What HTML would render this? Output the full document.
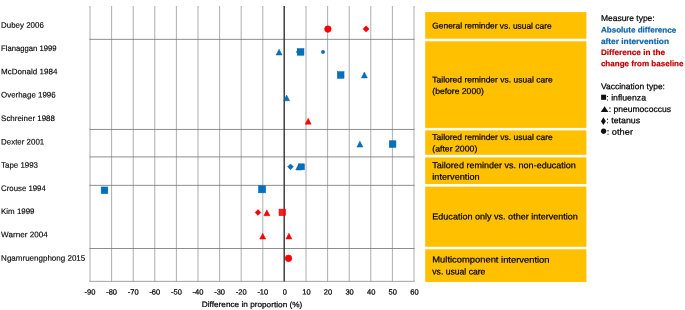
<!DOCTYPE html>
<html lang="en"><head><meta charset="utf-8"><title>Forest plot</title>
<style>
html,body{margin:0;padding:0;background:#fff}
svg{display:block;color:#000}
text{font-family:"Liberation Sans",sans-serif;fill:currentColor;stroke:currentColor;stroke-width:.22px}
.r text{stroke-width:.13px}
.b{font-weight:bold;stroke-width:.2px}
.sym{font-family:"DejaVu Sans","Liberation Sans",sans-serif}
</style></head><body>
<svg width="685" height="310" viewBox="0 0 685 310" fill="#000">
<rect width="685" height="310" fill="#fff"/>
<g stroke="#989898" stroke-width="0.8">
<line x1="90.0" y1="6" x2="90.0" y2="281.6"/>
<line x1="111.6" y1="6" x2="111.6" y2="281.6"/>
<line x1="133.2" y1="6" x2="133.2" y2="281.6"/>
<line x1="154.8" y1="6" x2="154.8" y2="281.6"/>
<line x1="176.4" y1="6" x2="176.4" y2="281.6"/>
<line x1="198.0" y1="6" x2="198.0" y2="281.6"/>
<line x1="219.6" y1="6" x2="219.6" y2="281.6"/>
<line x1="241.2" y1="6" x2="241.2" y2="281.6"/>
<line x1="262.8" y1="6" x2="262.8" y2="281.6"/>
<line x1="306.0" y1="6" x2="306.0" y2="281.6"/>
<line x1="327.6" y1="6" x2="327.6" y2="281.6"/>
<line x1="349.2" y1="6" x2="349.2" y2="281.6"/>
<line x1="370.8" y1="6" x2="370.8" y2="281.6"/>
<line x1="392.4" y1="6" x2="392.4" y2="281.6"/>
<line x1="414.0" y1="6" x2="414.0" y2="281.6"/>
</g>
<line x1="89.3" y1="281.35" x2="414.6" y2="281.35" stroke="#9c9c9c" stroke-width="0.95"/>
<g stroke="#7a7a7a" stroke-width="0.85">
<line x1="89.5" y1="39.35" x2="414.5" y2="39.35"/>
<line x1="89.5" y1="129.45" x2="414.5" y2="129.45"/>
<line x1="89.5" y1="156.9" x2="414.5" y2="156.9"/>
<line x1="89.5" y1="185.35" x2="414.5" y2="185.35"/>
<line x1="89.5" y1="248.5" x2="414.5" y2="248.5"/>
</g>
<line x1="284.2" y1="6" x2="284.2" y2="281.5" stroke="#2c2c2c" stroke-width="1.35"/>
<g stroke-width="0.5" stroke-linejoin="miter">
<circle cx="327.9" cy="29.1" r="3.3" fill="#FF0000" stroke="#E30000"/>
<polygon points="366.1,25.8 369.2,28.9 366.1,32.0 363.0,28.9" fill="#FF0000" stroke="#E30000"/>
<polygon points="279.1,49.2 282.1,55.0 276.1,55.0" fill="#0070C0" stroke="#0563A8"/>
<polygon points="299.0,49.0 301.9,51.9 299.0,54.8 296.1,51.9" fill="#0070C0" stroke="#0563A8"/>
<rect x="297.25" y="48.55" width="6.7" height="6.7" fill="#0070C0" stroke="#0563A8"/>
<circle cx="323.0" cy="51.9" r="1.7" fill="#0070C0" stroke="#0563A8"/>
<rect x="337.35" y="71.65" width="6.7" height="6.7" fill="#0070C0" stroke="#0563A8"/>
<polygon points="364.4,72.0 367.4,77.9 361.4,77.9" fill="#0070C0" stroke="#0563A8"/>
<polygon points="286.6,95.0 289.6,100.8 283.6,100.8" fill="#0070C0" stroke="#0563A8"/>
<polygon points="308.2,118.3 311.2,124.2 305.2,124.2" fill="#FF0000" stroke="#E30000"/>
<polygon points="359.9,141.2 362.9,147.1 356.9,147.1" fill="#0070C0" stroke="#0563A8"/>
<rect x="389.25" y="140.75" width="6.7" height="6.7" fill="#0070C0" stroke="#0563A8"/>
<polygon points="290.5,163.9 293.4,166.8 290.5,169.7 287.6,166.8" fill="#0070C0" stroke="#0563A8"/>
<polygon points="298.7,164.1 301.7,169.9 295.7,169.9" fill="#0070C0" stroke="#0563A8"/>
<rect x="298.45" y="163.80" width="6.0" height="6.0" fill="#0070C0" stroke="#0563A8"/>
<rect x="101.15" y="186.95" width="6.7" height="6.7" fill="#0070C0" stroke="#0563A8"/>
<rect x="258.50" y="185.75" width="7.1" height="7.1" fill="#0070C0" stroke="#0563A8"/>
<polygon points="258.0,209.6 260.9,212.5 258.0,215.4 255.1,212.5" fill="#FF0000" stroke="#E30000"/>
<polygon points="266.9,209.8 269.9,215.7 263.9,215.7" fill="#FF0000" stroke="#E30000"/>
<rect x="279.00" y="209.10" width="6.6" height="6.6" fill="#FF0000" stroke="#E30000" fill-opacity="0.88"/>
<polygon points="262.7,233.2 265.7,239.0 259.7,239.0" fill="#FF0000" stroke="#E30000"/>
<polygon points="288.9,233.2 291.9,239.0 285.9,239.0" fill="#FF0000" stroke="#E30000"/>
<circle cx="288.5" cy="258.3" r="3.35" fill="#FF0000" stroke="#E30000"/>
</g>
<g font-size="8px" class="r">
<text x="1.1" y="27.7" transform="rotate(0.03 1.1 27.7)" textLength="42.7" lengthAdjust="spacingAndGlyphs">Dubey 2006</text>
<text x="1.1" y="51.0" transform="rotate(0.03 1.1 51.0)" textLength="55.5" lengthAdjust="spacingAndGlyphs">Flanaggan 1999</text>
<text x="1.1" y="74.2" transform="rotate(0.03 1.1 74.2)" textLength="56.3" lengthAdjust="spacingAndGlyphs">McDonald 1984</text>
<text x="1.1" y="97.4" transform="rotate(0.03 1.1 97.4)" textLength="54.5" lengthAdjust="spacingAndGlyphs">Overhage 1996</text>
<text x="1.1" y="121.0" transform="rotate(0.03 1.1 121.0)" textLength="53.8" lengthAdjust="spacingAndGlyphs">Schreiner 1988</text>
<text x="1.1" y="144.5" transform="rotate(0.03 1.1 144.5)" textLength="43.1" lengthAdjust="spacingAndGlyphs">Dexter 2001</text>
<text x="1.1" y="167.7" transform="rotate(0.03 1.1 167.7)" textLength="36.9" lengthAdjust="spacingAndGlyphs">Tape 1993</text>
<text x="1.1" y="190.9" transform="rotate(0.03 1.1 190.9)" textLength="44.7" lengthAdjust="spacingAndGlyphs">Crouse 1994</text>
<text x="1.1" y="214.1" transform="rotate(0.03 1.1 214.1)" textLength="33.4" lengthAdjust="spacingAndGlyphs">Kim 1999</text>
<text x="1.1" y="237.2" transform="rotate(0.03 1.1 237.2)" textLength="46.6" lengthAdjust="spacingAndGlyphs">Warner 2004</text>
<text x="1.1" y="260.7" transform="rotate(0.03 1.1 260.7)" textLength="84.2" lengthAdjust="spacingAndGlyphs">Ngamruengphong 2015</text>
</g>
<g font-size="7.5px" text-anchor="middle">
<text x="90.0" y="294.5" transform="rotate(0.03 90.0 294.5)">-90</text>
<text x="111.6" y="294.5" transform="rotate(0.03 111.6 294.5)">-80</text>
<text x="133.2" y="294.5" transform="rotate(0.03 133.2 294.5)">-70</text>
<text x="154.8" y="294.5" transform="rotate(0.03 154.8 294.5)">-60</text>
<text x="176.4" y="294.5" transform="rotate(0.03 176.4 294.5)">-50</text>
<text x="198.0" y="294.5" transform="rotate(0.03 198.0 294.5)">-40</text>
<text x="219.6" y="294.5" transform="rotate(0.03 219.6 294.5)">-30</text>
<text x="241.2" y="294.5" transform="rotate(0.03 241.2 294.5)">-20</text>
<text x="262.8" y="294.5" transform="rotate(0.03 262.8 294.5)">-10</text>
<text x="284.8" y="294.5" transform="rotate(0.03 284.8 294.5)">0</text>
<text x="306.4" y="294.5" transform="rotate(0.03 306.4 294.5)">10</text>
<text x="328.0" y="294.5" transform="rotate(0.03 328.0 294.5)">20</text>
<text x="349.6" y="294.5" transform="rotate(0.03 349.6 294.5)">30</text>
<text x="371.2" y="294.5" transform="rotate(0.03 371.2 294.5)">40</text>
<text x="392.8" y="294.5" transform="rotate(0.03 392.8 294.5)">50</text>
<text x="414.4" y="294.5" transform="rotate(0.03 414.4 294.5)">60</text>
</g>
<text x="201.8" y="307.1" transform="rotate(0.03 201.8 307.1)" font-size="7.9px" textLength="100.5" lengthAdjust="spacingAndGlyphs">Difference in proportion (%)</text>
<g fill="#FFC000">
<rect x="425.2" y="12.1" width="161.2" height="26.6"/>
<rect x="425.2" y="41.3" width="161.2" height="86.6"/>
<rect x="425.2" y="130.4" width="161.2" height="24.4"/>
<rect x="425.2" y="157.4" width="161.2" height="26.6"/>
<rect x="425.2" y="186.6" width="161.2" height="60.2"/>
<rect x="425.2" y="249.3" width="161.2" height="32.7"/>
</g>
<g font-size="8.4px">
<text x="432.3" y="28.6" transform="rotate(0.03 432.3 28.6)" textLength="119.3" lengthAdjust="spacingAndGlyphs">General reminder vs. usual care</text>
<text x="432.3" y="82.5" transform="rotate(0.03 432.3 82.5)" textLength="120.4" lengthAdjust="spacingAndGlyphs">Tailored reminder vs. usual care</text>
<text x="432.3" y="94.0" transform="rotate(0.03 432.3 94.0)" textLength="51.5" lengthAdjust="spacingAndGlyphs">(before 2000)</text>
<text x="432.3" y="140.0" transform="rotate(0.03 432.3 140.0)" textLength="120.4" lengthAdjust="spacingAndGlyphs">Tailored reminder vs. usual care</text>
<text x="432.3" y="151.5" transform="rotate(0.03 432.3 151.5)" textLength="45.0" lengthAdjust="spacingAndGlyphs">(after 2000)</text>
<text x="432.3" y="168.3" transform="rotate(0.03 432.3 168.3)" font-size="8.8px" textLength="143.5" lengthAdjust="spacingAndGlyphs">Tailored reminder vs. non-education</text>
<text x="432.3" y="179.8" transform="rotate(0.03 432.3 179.8)" font-size="8.8px" textLength="47.3" lengthAdjust="spacingAndGlyphs">intervention</text>
<text x="432.3" y="219.4" transform="rotate(0.03 432.3 219.4)" font-size="8.8px" textLength="145.6" lengthAdjust="spacingAndGlyphs">Education only vs. other intervention</text>
<text x="432.3" y="262.6" transform="rotate(0.03 432.3 262.6)" font-size="8.8px" textLength="117.2" lengthAdjust="spacingAndGlyphs">Multicomponent intervention</text>
<text x="432.3" y="274.4" transform="rotate(0.03 432.3 274.4)" font-size="8.8px" textLength="53.1" lengthAdjust="spacingAndGlyphs">vs. usual care</text>
</g>
<g font-size="8px">
<text x="600.9" y="20.9" transform="rotate(0.03 600.9 20.9)" font-size="8.5px" textLength="53.8" lengthAdjust="spacingAndGlyphs">Measure type:</text>
<text x="600.9" y="32.6" transform="rotate(0.03 600.9 32.6)" textLength="75.4" lengthAdjust="spacingAndGlyphs" style="color:#0B64AC" class="b">Absolute difference</text>
<text x="600.9" y="43.9" transform="rotate(0.03 600.9 43.9)" textLength="68.1" lengthAdjust="spacingAndGlyphs" style="color:#0B64AC" class="b">after intervention</text>
<text x="600.9" y="55.0" transform="rotate(0.03 600.9 55.0)" textLength="64.1" lengthAdjust="spacingAndGlyphs" style="color:#C00000" class="b">Difference in the</text>
<text x="600.9" y="66.3" transform="rotate(0.03 600.9 66.3)" textLength="82.6" lengthAdjust="spacingAndGlyphs" style="color:#C00000" class="b">change from baseline</text>
<text x="600.9" y="89.3" transform="rotate(0.03 600.9 89.3)" font-size="8.5px" textLength="64.1" lengthAdjust="spacingAndGlyphs">Vaccination type:</text>
<text x="606.3" y="100.6" transform="rotate(0.03 606.3 100.6)" font-size="8.5px" textLength="39.7" lengthAdjust="spacingAndGlyphs">: influenza</text>
<text x="608.7" y="111.9" transform="rotate(0.03 608.7 111.9)" font-size="8.5px" textLength="62.3" lengthAdjust="spacingAndGlyphs">: pneumococcus</text>
<text x="606.3" y="123.3" transform="rotate(0.03 606.3 123.3)" font-size="8.5px" textLength="33.9" lengthAdjust="spacingAndGlyphs">: tetanus</text>
<text x="606.7" y="134.7" transform="rotate(0.03 606.7 134.7)" font-size="8.5px" textLength="26.3" lengthAdjust="spacingAndGlyphs">: other</text>
</g>
<text class="sym" font-size="10px" style="color:#111;stroke:none" transform="translate(600.51,99.09) scale(0.658,0.671)">&#9632;</text>
<text class="sym" font-size="10px" style="color:#111;stroke:none" transform="translate(600.70,111.00) scale(1.000,0.750)">&#9650;</text>
<text class="sym" font-size="10px" style="color:#111;stroke:none" transform="translate(599.51,124.80) scale(0.875,1.056)">&#9830;</text>
<text class="sym" font-size="10px" style="color:#111;stroke:none" transform="translate(600.57,133.35) scale(0.711,0.711)">&#9679;</text>
</svg>
</body></html>
